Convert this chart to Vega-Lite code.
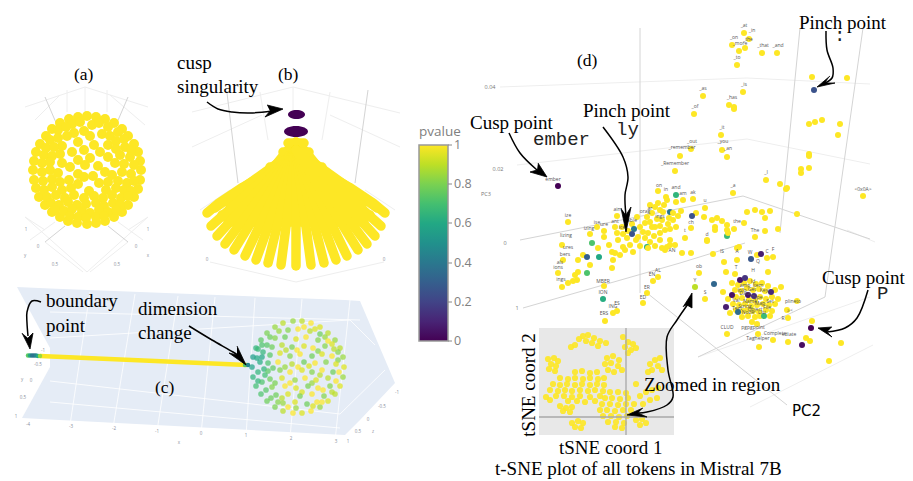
{"$schema":"https://vega.github.io/schema/vega-lite/v6.json","width":913,"height":481,"autosize":{"type":"fit","contains":"padding"},"padding":0,"background":"white","config":{"view":{"stroke":null},"legend":{"disable":true}},
"datasets":{
"plane":[{"s":"a","x":17,"y":287,"y2":287},{"s":"a","x":50,"y":288.5,"y2":348},{"s":"b","x":50,"y":288.5,"y2":419.5},{"s":"b","x":345,"y":300,"y2":435},{"s":"b","x":360,"y":301,"y2":420},{"s":"b","x":395,"y":383,"y2":383},{"s":"c","x":22,"y":418,"y2":418},{"s":"c","x":50,"y":367,"y2":419.5}],
"colorbar":[{"x":419,"x2":448,"y":145,"y2":341}],
"colorTicks":[{"x":448,"x2":452,"y":145,"y2":145,"t":"1"},{"x":448,"x2":452,"y":184,"y2":184,"t":"0.8"},{"x":448,"x2":452,"y":223,"y2":223,"t":"0.6"},{"x":448,"x2":452,"y":263,"y2":263,"t":"0.4"},{"x":448,"x2":452,"y":302,"y2":302,"t":"0.2"},{"x":448,"x2":452,"y":341,"y2":341,"t":"0"}],
"colorTitle":[{"x":419,"y":136,"t":"pvalue"}],
"gridWhite":[{"x":90,"y":292,"x2":70,"y2":425},{"x":135,"y":294,"x2":113,"y2":428},{"x":178,"y":296,"x2":157,"y2":431},{"x":215,"y":297,"x2":201,"y2":434},{"x":255,"y":298,"x2":246,"y2":436},{"x":302,"y":299,"x2":290,"y2":438},{"x":350,"y":300,"x2":335,"y2":441},{"x":50,"y":338,"x2":350,"y2":320},{"x":50,"y":381,"x2":340,"y2":414},{"x":50,"y":402,"x2":340,"y2":428},{"x":50,"y":312,"x2":360,"y2":320},{"x":350,"y":320,"x2":375,"y2":345},{"x":340,"y":414,"x2":385,"y2":370}],
"gridLight":[{"x":25,"y":107,"x2":85,"y2":87},{"x":85,"y":87,"x2":148,"y2":107},{"x":35,"y":120,"x2":60,"y2":95},{"x":110,"y":95,"x2":145,"y2":125},{"x":85,"y":87,"x2":85,"y2":115},{"x":67,"y":90,"x2":67,"y2":112},{"x":107,"y":90,"x2":107,"y2":112},{"x":25,"y":217,"x2":87,"y2":272},{"x":148,"y":217,"x2":87,"y2":272},{"x":45,"y":242,"x2":83,"y2":272},{"x":128,"y":242,"x2":90,"y2":272},{"x":25,"y":217,"x2":45,"y2":230},{"x":148,"y":217,"x2":128,"y2":230},{"x":55,"y":222,"x2":30,"y2":240},{"x":118,"y":222,"x2":143,"y2":240},
{"x":192,"y":112,"x2":293,"y2":87},{"x":293,"y":87,"x2":400,"y2":113},{"x":192,"y":147,"x2":262,"y2":115},{"x":400,"y":147,"x2":330,"y2":115},{"x":293,"y":87,"x2":293,"y2":110},{"x":260,"y":92,"x2":268,"y2":140},{"x":330,"y":92,"x2":322,"y2":140},{"x":200,"y":210,"x2":230,"y2":190},{"x":395,"y":210,"x2":365,"y2":190},{"x":210,"y":262,"x2":296,"y2":282},{"x":384,"y":262,"x2":296,"y2":282},
{"x":500,"y":87,"x2":747,"y2":78},{"x":747,"y":78,"x2":870,"y2":84},{"x":517,"y":165,"x2":747,"y2":139},{"x":747,"y":139,"x2":870,"y2":164},{"x":698,"y":357,"x2":870,"y2":297},{"x":750,"y":407,"x2":873,"y2":345},{"x":847,"y":230,"x2":875,"y2":242}],
"gridMid":[{"x":640,"y":28,"x2":640,"y2":293},{"x":647,"y":293,"x2":787,"y2":405},{"x":520,"y":240,"x2":743,"y2":196},{"x":743,"y":196,"x2":870,"y2":239},{"x":523,"y":308,"x2":680,"y2":263},{"x":800,"y":28,"x2":780,"y2":233},{"x":863,"y":28,"x2":825,"y2":297},{"x":825,"y":297,"x2":698,"y2":357},{"x":680,"y":263,"x2":745,"y2":243},{"x":45,"y":97,"x2":57,"y2":125},{"x":128,"y":97,"x2":116,"y2":125},{"x":227,"y":93,"x2":238,"y2":183},{"x":368,"y":90,"x2":355,"y2":183},{"x":45,"y":242,"x2":65,"y2":226},{"x":128,"y":242,"x2":108,"y2":226}],
"inset":[{"x":539,"x2":674,"y":328,"y2":435}],
"cross":[{"x":626,"y":328,"x2":626,"y2":435},{"x":539,"y":417,"x2":674,"y2":417}],
"sphereA":[{"x":141,"y":170,"p":1},{"x":140,"y":180,"p":1},{"x":138,"y":189,"p":1},{"x":134,"y":197,"p":1},{"x":128,"y":205,"p":1},{"x":122,"y":212,"p":1},{"x":114,"y":217,"p":1},{"x":105,"y":221,"p":1},{"x":96,"y":223,"p":1},{"x":87,"y":224,"p":1},{"x":77,"y":223,"p":1},{"x":68,"y":221,"p":1},{"x":60,"y":217,"p":1},{"x":52,"y":212,"p":1},{"x":45,"y":205,"p":1},{"x":39,"y":197,"p":1},{"x":36,"y":188,"p":1},{"x":34,"y":180,"p":1},{"x":33,"y":170,"p":1},{"x":34,"y":161,"p":1},{"x":36,"y":152,"p":1},{"x":40,"y":144,"p":1},{"x":46,"y":136,"p":1},{"x":52,"y":129,"p":1},{"x":60,"y":123,"p":1},{"x":69,"y":119,"p":1},{"x":78,"y":117,"p":1},{"x":87,"y":116,"p":1},{"x":96,"y":117,"p":1},{"x":105,"y":119,"p":1},{"x":114,"y":123,"p":1},{"x":122,"y":129,"p":1},{"x":128,"y":136,"p":1},{"x":134,"y":144,"p":1},{"x":138,"y":152,"p":1},{"x":140,"y":161,"p":1},
{"x":72,"y":124,"p":1},{"x":80,"y":122,"p":1},{"x":92,"y":125,"p":1},{"x":99,"y":123,"p":1},{"x":108,"y":127,"p":1},
{"x":58,"y":130,"p":1},{"x":66,"y":127,"p":1},{"x":74,"y":133,"p":1},{"x":84,"y":131,"p":1},{"x":90,"y":136,"p":1},{"x":102,"y":134,"p":1},{"x":110,"y":136,"p":1},{"x":118,"y":132,"p":1},
{"x":50,"y":140,"p":1},{"x":58,"y":138,"p":1},{"x":67,"y":136,"p":1},{"x":62,"y":146,"p":1},{"x":78,"y":142,"p":1},{"x":94,"y":145,"p":1},{"x":108,"y":145,"p":1},{"x":116,"y":141,"p":1},{"x":124,"y":139,"p":1},
{"x":46,"y":148,"p":1},{"x":54,"y":147,"p":1},{"x":72,"y":152,"p":1},{"x":84,"y":150,"p":1},{"x":100,"y":152,"p":1},{"x":116,"y":149,"p":1},{"x":125,"y":147,"p":1},{"x":131,"y":150,"p":1},
{"x":44,"y":155,"p":1},{"x":52,"y":156,"p":1},{"x":60,"y":154,"p":1},{"x":78,"y":160,"p":1},{"x":90,"y":158,"p":1},{"x":108,"y":157,"p":1},{"x":120,"y":155,"p":1},{"x":130,"y":157,"p":1},
{"x":42,"y":163,"p":1},{"x":50,"y":162,"p":1},{"x":62,"y":163,"p":1},{"x":70,"y":167,"p":1},{"x":85,"y":165,"p":1},{"x":98,"y":166,"p":1},{"x":115,"y":163,"p":1},{"x":124,"y":164,"p":1},{"x":134,"y":165,"p":1},
{"x":42,"y":172,"p":1},{"x":50,"y":170,"p":1},{"x":58,"y":173,"p":1},{"x":78,"y":174,"p":1},{"x":84,"y":177,"p":1},{"x":93,"y":176,"p":1},{"x":105,"y":172,"p":1},{"x":112,"y":175,"p":1},{"x":122,"y":172,"p":1},{"x":131,"y":174,"p":1},
{"x":43,"y":181,"p":1},{"x":52,"y":179,"p":1},{"x":60,"y":182,"p":1},{"x":69,"y":180,"p":1},{"x":78,"y":184,"p":1},{"x":99,"y":183,"p":1},{"x":108,"y":182,"p":1},{"x":118,"y":181,"p":1},{"x":127,"y":183,"p":1},{"x":134,"y":181,"p":1},
{"x":44,"y":190,"p":1},{"x":52,"y":187,"p":1},{"x":62,"y":190,"p":1},{"x":71,"y":188,"p":1},{"x":89,"y":191,"p":1},{"x":106,"y":190,"p":1},{"x":116,"y":188,"p":1},{"x":124,"y":190,"p":1},{"x":131,"y":191,"p":1},
{"x":47,"y":197,"p":1},{"x":56,"y":195,"p":1},{"x":65,"y":198,"p":1},{"x":74,"y":195,"p":1},{"x":84,"y":198,"p":1},{"x":94,"y":196,"p":1},{"x":103,"y":198,"p":1},{"x":112,"y":195,"p":1},{"x":121,"y":198,"p":1},{"x":128,"y":196,"p":1},
{"x":51,"y":203,"p":1},{"x":59,"y":205,"p":1},{"x":68,"y":202,"p":1},{"x":77,"y":205,"p":1},{"x":86,"y":204,"p":1},{"x":96,"y":203,"p":1},{"x":104,"y":206,"p":1},{"x":113,"y":203,"p":1},{"x":120,"y":205,"p":1},
{"x":55,"y":210,"p":1},{"x":64,"y":211,"p":1},{"x":72,"y":209,"p":1},{"x":82,"y":211,"p":1},{"x":90,"y":213,"p":1},{"x":99,"y":210,"p":1},{"x":108,"y":212,"p":1},{"x":116,"y":210,"p":1},
{"x":70,"y":216,"p":1},{"x":78,"y":217,"p":1},{"x":86,"y":218,"p":1},{"x":96,"y":217,"p":1},{"x":104,"y":216,"p":1}],
"cuspTop":[{"x":296.5,"y":114.5,"p":0}],
"cuspLow":[{"x":296,"y":131.5,"p":0}],
"fan":[
{"r":"L1","x":207,"y":213,"p":1},{"r":"L1","x":219,"y":203,"p":1},{"r":"L1","x":243,"y":187,"p":1},{"r":"L1","x":271,"y":171,"p":1},{"r":"L1","x":287,"y":151,"p":1},{"r":"L1","x":296,"y":142,"p":1},
{"r":"R1","x":385,"y":213,"p":1},{"r":"R1","x":373,"y":203,"p":1},{"r":"R1","x":349,"y":187,"p":1},{"r":"R1","x":321,"y":171,"p":1},{"r":"R1","x":305,"y":151,"p":1},{"r":"R1","x":296,"y":142,"p":1},
{"r":"F1","x":215,"y":208,"p":1},{"r":"F1","x":296,"y":150,"p":1},{"r":"F2","x":377,"y":208,"p":1},{"r":"F2","x":296,"y":150,"p":1},{"r":"F3","x":230,"y":205,"p":1},{"r":"F3","x":362,"y":205,"p":1},{"r":"F4","x":250,"y":190,"p":1},{"r":"F4","x":342,"y":190,"p":1},{"r":"F5","x":222,"y":215,"p":1},{"r":"F5","x":370,"y":215,"p":1},{"r":"F6","x":228,"y":222,"p":1},{"r":"F6","x":364,"y":222,"p":1},{"r":"F7","x":288,"y":143,"p":1},{"r":"F7","x":304,"y":143,"p":1},{"r":"F8","x":283,"y":152,"p":1},{"r":"F8","x":309,"y":152,"p":1},{"r":"F9","x":270,"y":167,"p":1},{"r":"F9","x":322,"y":167,"p":1},
{"r":"1","x":211,"y":226,"p":1},{"r":"1","x":296,"y":150,"p":1},{"r":"2","x":217,"y":236,"p":1},{"r":"2","x":296,"y":150,"p":1},{"r":"3","x":225,"y":244,"p":1},{"r":"3","x":296,"y":150,"p":1},{"r":"4","x":234,"y":250,"p":1},{"r":"4","x":296,"y":150,"p":1},{"r":"5","x":245,"y":256,"p":1},{"r":"5","x":296,"y":150,"p":1},{"r":"6","x":256,"y":260,"p":1},{"r":"6","x":296,"y":150,"p":1},{"r":"7","x":268,"y":263,"p":1},{"r":"7","x":296,"y":150,"p":1},{"r":"8","x":281,"y":265,"p":1},{"r":"8","x":296,"y":150,"p":1},{"r":"9","x":296,"y":266,"p":1},{"r":"9","x":296,"y":150,"p":1},{"r":"10","x":311,"y":265,"p":1},{"r":"10","x":296,"y":150,"p":1},{"r":"11","x":324,"y":263,"p":1},{"r":"11","x":296,"y":150,"p":1},{"r":"12","x":336,"y":260,"p":1},{"r":"12","x":296,"y":150,"p":1},{"r":"13","x":347,"y":256,"p":1},{"r":"13","x":296,"y":150,"p":1},{"r":"14","x":358,"y":250,"p":1},{"r":"14","x":296,"y":150,"p":1},{"r":"15","x":367,"y":244,"p":1},{"r":"15","x":296,"y":150,"p":1},{"r":"16","x":375,"y":236,"p":1},{"r":"16","x":296,"y":150,"p":1},{"r":"17","x":381,"y":226,"p":1},{"r":"17","x":296,"y":150,"p":1}],
"beam":[{"r":"b","x":40,"y":356,"p":1},{"r":"b","x":247,"y":365,"p":1}],
"beamPts":[{"x":28,"y":355.5,"p":0.75},{"x":30,"y":355.5,"p":0.6},{"x":32,"y":355.5,"p":0.4},{"x":34,"y":355.5,"p":0.38},{"x":36,"y":355.5,"p":0.45},{"x":38,"y":356,"p":0.6},{"x":40,"y":356,"p":0.85},{"x":245,"y":365,"p":0.75},{"x":248,"y":365,"p":0.45}],
"sphereC":[{"x":344,"y":367,"p":0.95},{"x":343,"y":377,"p":0.85},{"x":340,"y":386,"p":0.95},{"x":335,"y":394,"p":0.9},{"x":328,"y":401,"p":0.95},{"x":320,"y":407,"p":0.85},{"x":311,"y":411,"p":1},{"x":302,"y":413,"p":0.95},{"x":293,"y":413,"p":1},{"x":283,"y":411,"p":0.9},{"x":275,"y":407,"p":0.8},{"x":267,"y":401,"p":0.78},{"x":261,"y":394,"p":0.72},{"x":256,"y":386,"p":0.7},{"x":253,"y":377,"p":0.65},{"x":252,"y":367,"p":0.58},{"x":253,"y":357,"p":0.55},{"x":256,"y":348,"p":0.65},{"x":261,"y":340,"p":0.75},{"x":267,"y":333,"p":0.8},{"x":275,"y":327,"p":0.85},{"x":283,"y":323,"p":0.9},{"x":293,"y":321,"p":0.85},{"x":302,"y":321,"p":0.9},{"x":311,"y":323,"p":1},{"x":320,"y":327,"p":0.95},{"x":328,"y":333,"p":0.9},{"x":335,"y":340,"p":0.85},{"x":340,"y":348,"p":0.9},{"x":343,"y":357,"p":0.85},
{"x":339,"y":372,"p":1},{"x":338,"y":352,"p":0.82},{"x":332,"y":392,"p":0.9},{"x":322,"y":402,"p":1},{"x":313,"y":406,"p":0.95},{"x":296,"y":408,"p":0.85},{"x":288,"y":407,"p":1},{"x":278,"y":402,"p":0.82},{"x":258,"y":381,"p":0.66},{"x":257,"y":358,"p":0.6},{"x":258,"y":349,"p":0.68},{"x":262,"y":345,"p":0.72},{"x":270,"y":337,"p":0.78},{"x":279,"y":331,"p":0.85},{"x":304,"y":327,"p":1},{"x":315,"y":329,"p":0.95},{"x":325,"y":337,"p":0.85},{"x":332,"y":344,"p":0.95},{"x":286,"y":350,"p":0.9},{"x":297,"y":350,"p":1},{"x":318,"y":351,"p":0.82},{"x":273,"y":368,"p":0.76},{"x":285,"y":367,"p":0.85},{"x":298,"y":367,"p":1},{"x":309,"y":366,"p":0.95},{"x":320,"y":375,"p":0.9},{"x":275,"y":383,"p":0.8},{"x":290,"y":383,"p":1},{"x":302,"y":392,"p":0.95},{"x":312,"y":383,"p":0.85},{"x":323,"y":390,"p":1},{"x":282,"y":398,"p":0.9},{"x":265,"y":375,"p":0.7},{"x":264,"y":369,"p":0.65},{"x":262,"y":357,"p":0.6},
{"x":260,"y":362,"p":0.62},{"x":258,"y":372,"p":0.66},{"x":262,"y":382,"p":0.72},{"x":263,"y":352,"p":0.66},{"x":267,"y":345,"p":0.74},{"x":266,"y":390,"p":0.74},{"x":271,"y":398,"p":0.78},{"x":288,"y":330,"p":0.82},{"x":298,"y":329,"p":1},{"x":310,"y":331,"p":0.9},{"x":320,"y":334,"p":0.78},{"x":275,"y":338,"p":0.82},{"x":285,"y":337,"p":0.78},{"x":296,"y":339,"p":0.95},{"x":306,"y":337,"p":1},{"x":318,"y":340,"p":0.82},{"x":328,"y":341,"p":1},{"x":272,"y":347,"p":0.78},{"x":282,"y":345,"p":0.9},{"x":292,"y":347,"p":0.8},{"x":304,"y":346,"p":0.95},{"x":313,"y":348,"p":1},{"x":325,"y":346,"p":0.82},{"x":334,"y":349,"p":0.9},{"x":270,"y":355,"p":0.74},{"x":280,"y":353,"p":0.95},{"x":290,"y":356,"p":0.82},{"x":300,"y":354,"p":1},{"x":312,"y":356,"p":0.78},{"x":322,"y":354,"p":0.95},{"x":332,"y":356,"p":1},{"x":338,"y":360,"p":0.82},{"x":268,"y":363,"p":0.72},{"x":278,"y":362,"p":1},{"x":292,"y":364,"p":0.9},{"x":304,"y":362,"p":0.78},{"x":315,"y":363,"p":1},{"x":326,"y":362,"p":0.82},{"x":336,"y":364,"p":0.95},{"x":268,"y":371,"p":0.75},{"x":280,"y":370,"p":0.82},{"x":290,"y":372,"p":1},{"x":302,"y":370,"p":0.95},{"x":312,"y":372,"p":0.82},{"x":322,"y":370,"p":1},{"x":333,"y":372,"p":0.78},{"x":270,"y":379,"p":0.78},{"x":282,"y":378,"p":0.95},{"x":295,"y":380,"p":0.85},{"x":305,"y":378,"p":1},{"x":316,"y":380,"p":0.95},{"x":328,"y":378,"p":0.9},{"x":336,"y":381,"p":1},{"x":272,"y":387,"p":0.82},{"x":285,"y":386,"p":1},{"x":296,"y":388,"p":0.95},{"x":308,"y":386,"p":0.8},{"x":318,"y":388,"p":1},{"x":330,"y":386,"p":0.82},{"x":276,"y":395,"p":0.78},{"x":288,"y":394,"p":0.95},{"x":300,"y":396,"p":0.8},{"x":312,"y":394,"p":1},{"x":324,"y":396,"p":0.82},{"x":283,"y":403,"p":0.85},{"x":295,"y":402,"p":0.95},{"x":307,"y":404,"p":0.78},{"x":317,"y":402,"p":1}],
"tsne":[{"x":583,"y":336,"p":1},{"x":588,"y":335,"p":1},{"x":594,"y":338,"p":1},{"x":600,"y":341,"p":1},{"x":606,"y":343,"p":1},{"x":579,"y":339,"p":1},{"x":586,"y":341,"p":1},{"x":592,"y":343,"p":1},{"x":598,"y":346,"p":1},{"x":571,"y":347,"p":1},{"x":575,"y":345,"p":1},{"x":623,"y":337,"p":1},{"x":628,"y":342,"p":1},{"x":633,"y":344,"p":1},{"x":625,"y":347,"p":1},{"x":631,"y":350,"p":1},{"x":636,"y":348,"p":1},{"x":628,"y":353,"p":1},{"x":548,"y":359,"p":1},{"x":554,"y":358,"p":1},{"x":558,"y":361,"p":1},{"x":551,"y":364,"p":1},{"x":556,"y":366,"p":1},{"x":549,"y":369,"p":1},{"x":555,"y":371,"p":1},{"x":607,"y":358,"p":1},{"x":613,"y":356,"p":1},{"x":619,"y":360,"p":1},{"x":605,"y":364,"p":1},{"x":611,"y":363,"p":1},{"x":618,"y":366,"p":1},{"x":622,"y":370,"p":1},{"x":608,"y":370,"p":1},{"x":614,"y":372,"p":1},{"x":650,"y":364,"p":1},{"x":655,"y":360,"p":1},{"x":660,"y":358,"p":1},{"x":652,"y":370,"p":1},{"x":658,"y":366,"p":1},{"x":662,"y":370,"p":1},{"x":648,"y":372,"p":1},
{"x":575,"y":372,"p":1},{"x":582,"y":371,"p":1},{"x":590,"y":373,"p":1},{"x":597,"y":372,"p":1},{"x":560,"y":378,"p":1},{"x":568,"y":379,"p":1},{"x":575,"y":378,"p":1},{"x":583,"y":379,"p":1},{"x":590,"y":378,"p":1},{"x":598,"y":379,"p":1},{"x":604,"y":378,"p":1},{"x":553,"y":384,"p":1},{"x":560,"y":385,"p":1},{"x":567,"y":384,"p":1},{"x":575,"y":385,"p":1},{"x":582,"y":384,"p":1},{"x":590,"y":385,"p":1},{"x":597,"y":384,"p":1},{"x":604,"y":385,"p":1},{"x":550,"y":390,"p":1},{"x":558,"y":391,"p":1},{"x":565,"y":390,"p":1},{"x":572,"y":391,"p":1},{"x":580,"y":390,"p":1},{"x":588,"y":391,"p":1},{"x":595,"y":390,"p":1},{"x":603,"y":391,"p":1},{"x":556,"y":396,"p":1},{"x":564,"y":396,"p":1},{"x":572,"y":397,"p":1},{"x":580,"y":396,"p":1},{"x":590,"y":397,"p":1},{"x":600,"y":396,"p":1},{"x":568,"y":401,"p":1},{"x":577,"y":401,"p":1},{"x":585,"y":402,"p":1},{"x":595,"y":401,"p":1},
{"x":610,"y":392,"p":1},{"x":618,"y":392,"p":1},{"x":626,"y":393,"p":1},{"x":605,"y":398,"p":1},{"x":612,"y":398,"p":1},{"x":620,"y":399,"p":1},{"x":628,"y":398,"p":1},{"x":602,"y":404,"p":1},{"x":610,"y":404,"p":1},{"x":618,"y":405,"p":1},{"x":626,"y":404,"p":1},{"x":634,"y":404,"p":1},{"x":600,"y":410,"p":1},{"x":607,"y":410,"p":1},{"x":615,"y":411,"p":1},{"x":623,"y":410,"p":1},{"x":631,"y":410,"p":1},{"x":603,"y":416,"p":1},{"x":611,"y":416,"p":1},{"x":619,"y":417,"p":1},{"x":627,"y":416,"p":1},{"x":608,"y":422,"p":1},{"x":616,"y":422,"p":1},{"x":624,"y":423,"p":1},{"x":615,"y":427,"p":1},{"x":622,"y":428,"p":1},
{"x":640,"y":396,"p":1},{"x":646,"y":392,"p":1},{"x":652,"y":390,"p":1},{"x":658,"y":388,"p":1},{"x":643,"y":404,"p":1},{"x":650,"y":400,"p":1},{"x":657,"y":398,"p":1},{"x":636,"y":384,"p":1},{"x":546,"y":397,"p":1},{"x":550,"y":400,"p":1},{"x":560,"y":406,"p":1},{"x":566,"y":408,"p":1},{"x":572,"y":407,"p":1},{"x":563,"y":411,"p":1},{"x":570,"y":412,"p":1},{"x":572,"y":423,"p":1},{"x":578,"y":421,"p":1},{"x":583,"y":423,"p":1},{"x":575,"y":427,"p":1},{"x":581,"y":428,"p":1},{"x":636,"y":420,"p":1},{"x":642,"y":419,"p":1},{"x":646,"y":423,"p":1},{"x":640,"y":425,"p":1}],
"tokens":[{"x":744,"y":33,"p":1},{"x":749,"y":39,"p":1},{"x":732,"y":45,"p":1},{"x":739,"y":51,"p":1},{"x":745,"y":48,"p":1},{"x":762,"y":53,"p":1},{"x":777,"y":53,"p":1},{"x":737,"y":65,"p":1},{"x":812,"y":77,"p":1},{"x":847,"y":78,"p":1},{"x":814,"y":90,"p":0.25},{"x":743,"y":92,"p":1},{"x":703,"y":96,"p":1},{"x":729,"y":105,"p":1},{"x":734,"y":107,"p":1},{"x":734,"y":109,"p":1},{"x":694,"y":114,"p":1},{"x":809,"y":124,"p":1},{"x":815,"y":122,"p":1},{"x":822,"y":120,"p":1},{"x":840,"y":124,"p":1},{"x":838,"y":135,"p":1},{"x":721,"y":135,"p":1},{"x":691,"y":149,"p":1},{"x":722,"y":150,"p":1},{"x":727,"y":157,"p":1},{"x":680,"y":156,"p":1},{"x":809,"y":154,"p":1},{"x":809,"y":156,"p":1},{"x":801,"y":169,"p":1},{"x":801,"y":173,"p":1},{"x":809,"y":168,"p":1},{"x":675,"y":171,"p":1},{"x":558,"y":186,"p":0},{"x":766,"y":180,"p":1},{"x":780,"y":184,"p":1},{"x":787,"y":188,"p":1},{"x":786,"y":189,"p":1},{"x":733,"y":193,"p":1},{"x":863,"y":196,"p":1},{"x":658,"y":191,"p":1},{"x":676,"y":195,"p":0.65},{"x":666,"y":197,"p":1},{"x":797,"y":214,"p":1},{"x":747,"y":212,"p":1},{"x":755,"y":210,"p":1},{"x":762,"y":212,"p":1},{"x":770,"y":211,"p":1},{"x":765,"y":218,"p":1},{"x":778,"y":229,"p":1},{"x":765,"y":231,"p":1},{"x":755,"y":237,"p":1},{"x":744,"y":223,"p":1},{"x":727,"y":236,"p":0.68},{"x":734,"y":229,"p":1},{"x":717,"y":218,"p":1},{"x":712,"y":220,"p":1},{"x":722,"y":221,"p":1},{"x":727,"y":225,"p":1},{"x":715,"y":227,"p":1},{"x":715,"y":230,"p":1},{"x":727,"y":230,"p":1},{"x":728,"y":233,"p":1},{"x":704,"y":217,"p":1},{"x":705,"y":208,"p":1},{"x":696,"y":213,"p":1},{"x":692,"y":216,"p":0.25},{"x":693,"y":199,"p":1},{"x":691,"y":228,"p":1},{"x":685,"y":238,"p":1},{"x":707,"y":240,"p":1},{"x":676,"y":227,"p":1},{"x":670,"y":212,"p":0.4},{"x":683,"y":200,"p":1},{"x":676,"y":202,"p":1},{"x":658,"y":203,"p":1},{"x":660,"y":210,"p":1},{"x":667,"y":200,"p":1},{"x":650,"y":205,"p":1},{"x":652,"y":213,"p":1},{"x":663,"y":212,"p":1},{"x":673,"y":213,"p":1},{"x":681,"y":211,"p":1},{"x":662,"y":220,"p":1},{"x":673,"y":220,"p":1},{"x":647,"y":217,"p":1},{"x":637,"y":217,"p":1},{"x":645,"y":223,"p":1},{"x":652,"y":227,"p":1},{"x":665,"y":230,"p":1},{"x":670,"y":229,"p":1},{"x":660,"y":233,"p":1},{"x":655,"y":227,"p":1},{"x":640,"y":227,"p":1},{"x":643,"y":232,"p":1},{"x":638,"y":237,"p":1},{"x":617,"y":216,"p":1},{"x":568,"y":222,"p":1},{"x":597,"y":227,"p":1},{"x":604,"y":231,"p":1},{"x":615,"y":227,"p":1},{"x":622,"y":227,"p":1},{"x":617,"y":233,"p":1},{"x":623,"y":234,"p":1},{"x":590,"y":234,"p":1},{"x":604,"y":237,"p":1},{"x":562,"y":245,"p":1},{"x":627,"y":238,"p":1},{"x":636,"y":240,"p":1},{"x":645,"y":238,"p":1},{"x":630,"y":245,"p":1},{"x":640,"y":246,"p":1},{"x":625,"y":250,"p":1},{"x":633,"y":252,"p":1},{"x":618,"y":240,"p":1},{"x":650,"y":242,"p":1},{"x":655,"y":246,"p":1},{"x":660,"y":240,"p":1},{"x":670,"y":240,"p":1},{"x":675,"y":245,"p":1},{"x":665,"y":250,"p":1},{"x":655,"y":207,"p":1},{"x":664,"y":205,"p":1},{"x":669,"y":218,"p":1},{"x":657,"y":219,"p":1},{"x":650,"y":222,"p":1},{"x":678,"y":216,"p":1},{"x":668,"y":224,"p":1},{"x":660,"y":226,"p":1},{"x":648,"y":233,"p":1},{"x":654,"y":236,"p":1},{"x":632,"y":224,"p":1},{"x":628,"y":231,"p":1},
{"x":592,"y":243,"p":0.72},{"x":598,"y":248,"p":1},{"x":599,"y":257,"p":0.6},{"x":583,"y":255,"p":1},{"x":578,"y":260,"p":1},{"x":590,"y":265,"p":1},{"x":587,"y":273,"p":0.72},{"x":578,"y":272,"p":1},{"x":575,"y":275,"p":1},{"x":563,"y":260,"p":1},{"x":558,"y":273,"p":1},{"x":562,"y":287,"p":1},{"x":568,"y":283,"p":1},{"x":573,"y":281,"p":1},{"x":577,"y":280,"p":1},{"x":603,"y":299,"p":0.62},{"x":613,"y":260,"p":1},{"x":612,"y":268,"p":1},{"x":612,"y":252,"p":1},{"x":620,"y":255,"p":1},{"x":615,"y":253,"p":1},{"x":623,"y":247,"p":1},{"x":609,"y":245,"p":1},{"x":604,"y":286,"p":1},{"x":605,"y":321,"p":1},{"x":613,"y":313,"p":1},{"x":617,"y":311,"p":1},{"x":647,"y":293,"p":1},{"x":643,"y":303,"p":1},{"x":653,"y":281,"p":1},{"x":658,"y":277,"p":1},{"x":647,"y":247,"p":0.65},{"x":648,"y":248,"p":1},{"x":662,"y":248,"p":1},{"x":667,"y":247,"p":1},{"x":670,"y":245,"p":1},{"x":682,"y":253,"p":1},{"x":691,"y":253,"p":1},{"x":707,"y":241,"p":1},{"x":713,"y":254,"p":1},{"x":699,"y":273,"p":1},{"x":695,"y":287,"p":0.9},{"x":705,"y":299,"p":1},{"x":724,"y":262,"p":1},{"x":726,"y":272,"p":1},{"x":737,"y":248,"p":1},{"x":739,"y":247,"p":1},{"x":737,"y":260,"p":1},{"x":735,"y":274,"p":1},{"x":757,"y":255,"p":1},{"x":767,"y":258,"p":1},{"x":773,"y":257,"p":1},{"x":768,"y":272,"p":1},{"x":723,"y":292,"p":1},{"x":727,"y":334,"p":1},{"x":730,"y":313,"p":1},{"x":747,"y":310,"p":1},{"x":742,"y":317,"p":1},{"x":781,"y":287,"p":1},{"x":797,"y":301,"p":1},{"x":787,"y":310,"p":1},{"x":788,"y":318,"p":1},{"x":812,"y":321,"p":1},{"x":806,"y":338,"p":1},{"x":810,"y":341,"p":1},{"x":788,"y":342,"p":1},{"x":773,"y":340,"p":1},{"x":759,"y":347,"p":1},{"x":758,"y":334,"p":1},{"x":841,"y":343,"p":1},{"x":829,"y":361,"p":1},
{"x":732,"y":283,"p":1},{"x":738,"y":285,"p":1},{"x":744,"y":283,"p":1},{"x":750,"y":281,"p":1},{"x":756,"y":284,"p":1},{"x":762,"y":283,"p":1},{"x":768,"y":286,"p":1},{"x":735,"y":290,"p":1},{"x":741,"y":291,"p":1},{"x":747,"y":288,"p":1},{"x":753,"y":290,"p":1},{"x":759,"y":289,"p":1},{"x":765,"y":291,"p":1},{"x":775,"y":290,"p":1},{"x":728,"y":299,"p":1},{"x":736,"y":297,"p":1},{"x":742,"y":298,"p":1},{"x":749,"y":300,"p":1},{"x":755,"y":301,"p":1},{"x":760,"y":297,"p":1},{"x":766,"y":299,"p":1},{"x":772,"y":297,"p":1},{"x":778,"y":299,"p":1},{"x":733,"y":304,"p":1},{"x":739,"y":305,"p":1},{"x":745,"y":304,"p":1},{"x":751,"y":306,"p":1},{"x":757,"y":305,"p":1},{"x":763,"y":304,"p":1},{"x":769,"y":305,"p":1},{"x":775,"y":304,"p":1},{"x":736,"y":310,"p":1},{"x":743,"y":311,"p":1},{"x":753,"y":311,"p":1},{"x":759,"y":312,"p":1},{"x":766,"y":310,"p":1},{"x":772,"y":311,"p":1},{"x":748,"y":316,"p":1},{"x":755,"y":317,"p":1},{"x":760,"y":316,"p":1},{"x":770,"y":316,"p":1},{"x":752,"y":322,"p":1},{"x":757,"y":324,"p":1},
{"x":587,"y":257,"p":0.3},{"x":634,"y":229,"p":0.4},{"x":632,"y":234,"p":0.25},{"x":751,"y":259,"p":0.27},{"x":761,"y":254,"p":0.08},{"x":714,"y":284,"p":0.33},{"x":732,"y":295,"p":0.05},{"x":726,"y":307,"p":0.08},{"x":738,"y":312,"p":0.35},{"x":771,"y":292,"p":0.12},{"x":754,"y":296,"p":0.12},{"x":748,"y":295,"p":0.05},{"x":740,"y":280,"p":0.05},{"x":745,"y":278,"p":0.15},{"x":764,"y":316,"p":0.68},{"x":811,"y":328,"p":0},{"x":802,"y":345,"p":0.03}],
"tokenLabels":[{"x":744,"y":25,"t":"_at"},{"x":752,"y":30,"t":"_in"},{"x":734,"y":37,"t":"_on"},{"x":763,"y":45,"t":"_that"},{"x":778,"y":45,"t":"_and"},{"x":737,"y":57,"t":"_to"},{"x":748,"y":39,"t":"_the"},{"x":740,"y":43,"t":"_more"},{"x":744,"y":84,"t":"_is"},{"x":703,"y":88,"t":"_as"},{"x":695,"y":106,"t":"_of"},{"x":732,"y":97,"t":"_has"},{"x":722,"y":127,"t":"_it"},{"x":692,"y":141,"t":"_out"},{"x":723,"y":141,"t":"_you"},{"x":728,"y":148,"t":"_an"},{"x":682,"y":147,"t":"_remember"},{"x":675,"y":163,"t":"_Remember"},{"x":553,"y":179,"t":"ember"},{"x":733,"y":185,"t":"_a"},{"x":766,"y":172,"t":"_I"},{"x":659,"y":185,"t":"on"},{"x":676,"y":187,"t":"and"},{"x":666,"y":189,"t":"in"},{"x":683,"y":193,"t":"am"},{"x":693,"y":192,"t":"ak"},{"x":863,"y":189,"t":"<0x0A>"},{"x":568,"y":215,"t":"ize"},{"x":617,"y":209,"t":"ain"},{"x":705,"y":200,"t":"u"},{"x":691,"y":222,"t":"ch"},{"x":755,"y":230,"t":"The"},{"x":737,"y":221,"t":"the"},{"x":707,"y":234,"t":"d"},{"x":685,"y":230,"t":"t"},{"x":597,"y":222,"t":"ise"},{"x":604,"y":224,"t":"ure"},{"x":615,"y":221,"t":"ant"},{"x":589,"y":228,"t":"izing"},{"x":622,"y":227,"t":"ice"},{"x":566,"y":235,"t":"lizing"},{"x":568,"y":247,"t":"ures"},{"x":565,"y":254,"t":"bers"},{"x":560,"y":262,"t":"als"},{"x":558,"y":267,"t":"ions"},{"x":561,"y":279,"t":"ings"},{"x":603,"y":281,"t":"MBER"},{"x":603,"y":292,"t":"ION"},{"x":617,"y":303,"t":"ES"},{"x":613,"y":306,"t":"ING"},{"x":604,"y":313,"t":"ERS"},{"x":658,"y":270,"t":"AL"},{"x":652,"y":274,"t":"EN"},{"x":647,"y":287,"t":"ER"},{"x":643,"y":297,"t":"ED"},{"x":672,"y":250,"t":"AN"},{"x":705,"y":292,"t":"S"},{"x":695,"y":280,"t":"Y"},{"x":699,"y":266,"t":"ob"},{"x":727,"y":327,"t":"CLUD"},{"x":753,"y":327,"t":"pgpgpoint"},{"x":775,"y":333,"t":"Complete"},{"x":758,"y":338,"t":"Taghelper"},{"x":789,"y":334,"t":"ediate"},{"x":773,"y":249,"t":"F"},{"x":758,"y":261,"t":"Q"},{"x":767,"y":251,"t":"C"},{"x":750,"y":252,"t":"W"},{"x":737,"y":251,"t":"A"},{"x":722,"y":251,"t":"IS"},{"x":753,"y":270,"t":"H"},{"x":736,"y":267,"t":"T"},{"x":793,"y":301,"t":"plineto"},{"x":790,"y":310,"t":"≥<"},{"x":783,"y":318,"t":"R"},{"x":650,"y":208,"t":"ar"},{"x":645,"y":211,"t":"orag"},{"x":660,"y":216,"t":"ings"},{"x":632,"y":220,"t":"able"},{"x":745,"y":285,"t":"amp"},{"x":752,"y":289,"t":"Get"},{"x":745,"y":293,"t":"Data"},{"x":757,"y":297,"t":"Type"},{"x":750,"y":301,"t":"Name"},{"x":760,"y":303,"t":"Map"},{"x":745,"y":306,"t":"String"},{"x":755,"y":309,"t":"Object"},{"x":762,"y":312,"t":"List"},{"x":748,"y":312,"t":"Node"},{"x":764,"y":290,"t":"Key"},{"x":736,"y":300,"t":"Val"},{"x":770,"y":301,"t":"Set"},{"x":742,"y":290,"t":"Info"},{"x":758,"y":285,"t":"Item"},{"x":753,"y":281,"t":"Id"},{"x":767,"y":307,"t":"File"},{"x":737,"y":308,"t":"Text"}],
"axisText":[{"x":38,"y":247,"t":"0"},{"x":25,"y":256,"t":"y"},{"x":55,"y":265,"t":"0.5"},{"x":117,"y":265,"t":"0.5"},{"x":136,"y":247,"t":"0"},{"x":148,"y":256,"t":"x"},{"x":26,"y":230,"t":"1"},{"x":148,"y":230,"t":"1"},{"x":207,"y":260,"t":"0"},{"x":384,"y":260,"t":"0"},{"x":43,"y":351,"t":"-1"},{"x":38,"y":365,"t":"-0.5"},{"x":22,"y":380,"t":"y"},{"x":31,"y":381,"t":"0"},{"x":23,"y":398,"t":"0.5"},{"x":16,"y":417,"t":"1"},{"x":28,"y":425,"t":"-4"},{"x":71,"y":427,"t":"-3"},{"x":114,"y":429,"t":"-2"},{"x":157,"y":432,"t":"-1"},{"x":201,"y":434,"t":"0"},{"x":246,"y":436,"t":"1"},{"x":291,"y":439,"t":"2"},{"x":336,"y":442,"t":"3"},{"x":179,"y":443,"t":"x"},{"x":397,"y":393,"t":"-1"},{"x":382,"y":407,"t":"-0.5"},{"x":368,"y":420,"t":"0"},{"x":358,"y":432,"t":"0.5"},{"x":348,"y":442,"t":"1"},{"x":373,"y":432,"t":"z"}],
"axisTextD":[{"x":490,"y":87,"t":"0.04"},{"x":498,"y":169,"t":"0.02"},{"x":486,"y":194,"t":"PC3"},{"x":505,"y":243,"t":"0"},{"x":517,"y":308,"t":"1"}],
"serif":[{"x":74,"y":80,"t":"(a)"},{"x":278,"y":80,"t":"(b)"},{"x":155,"y":393,"t":"(c)"},{"x":577,"y":66,"t":"(d)"}],
"serifBig":[{"x":177,"y":69,"t":"cusp"},{"x":177,"y":93,"t":"singularity"},{"x":46,"y":307,"t":"boundary"},{"x":46,"y":332,"t":"point"},{"x":138,"y":315,"t":"dimension"},{"x":138,"y":339,"t":"change"},{"x":799,"y":29,"t":"Pinch point"},{"x":583,"y":117,"t":"Pinch point"},{"x":470,"y":129,"t":"Cusp point"},{"x":822,"y":284,"t":"Cusp point"},{"x":644,"y":391,"t":"Zoomed in region"},{"x":559,"y":454,"t":"tSNE coord 1"},{"x":495,"y":475,"t":"t-SNE plot of all tokens in Mistral 7B"}],
"vertical":[{"x":535,"y":385,"t":"tSNE coord 2"}],
"mono":[{"x":533,"y":145,"t":"ember"},{"x":616,"y":135,"t":"ly"},{"x":877,"y":299,"t":"P"},{"x":834,"y":41,"t":":"}],
"sans":[{"x":792,"y":416,"t":"PC2"}],
"arrows":[{"a":"1","x":207,"y":102},{"a":"1","x":218,"y":109},{"a":"1","x":232,"y":112},{"a":"1","x":250,"y":113},{"a":"1","x":272,"y":111},
{"a":"2","x":41,"y":302},{"a":"2","x":32,"y":301},{"a":"2","x":27,"y":312},{"a":"2","x":27,"y":323},{"a":"2","x":28,"y":336},
{"a":"3","x":189,"y":326},{"a":"3","x":212,"y":340},{"a":"3","x":233,"y":352},{"a":"3","x":239,"y":356},
{"a":"4","x":826,"y":31},{"a":"4","x":827,"y":50},{"a":"4","x":833,"y":68},{"a":"4","x":832,"y":78},{"a":"4","x":825,"y":83},
{"a":"5","x":603,"y":127},{"a":"5","x":623,"y":157},{"a":"5","x":628,"y":177},{"a":"5","x":625,"y":195},{"a":"5","x":626,"y":216},
{"a":"6","x":509,"y":133},{"a":"6","x":520,"y":153},{"a":"6","x":537,"y":170},
{"a":"7","x":868,"y":290},{"a":"7","x":857,"y":318},{"a":"7","x":845,"y":328},{"a":"7","x":827,"y":332},
{"a":"8","x":688,"y":304},{"a":"8","x":677,"y":320},{"a":"8","x":667,"y":337},{"a":"8","x":668,"y":370},{"a":"8","x":673,"y":397},{"a":"8","x":667,"y":405},{"a":"8","x":647,"y":412},{"a":"8","x":638,"y":413}],
"heads":[{"a":"1","x":267,"y":105},{"a":"1","x":283,"y":109},{"a":"1","x":265,"y":117},{"a":"1","x":270,"y":111},
{"a":"2","x":22,"y":333},{"a":"2","x":30,"y":349},{"a":"2","x":33,"y":333},{"a":"2","x":28,"y":338},
{"a":"3","x":237,"y":346},{"a":"3","x":246,"y":365},{"a":"3","x":229,"y":353},{"a":"3","x":237,"y":355},
{"a":"4","x":830,"y":76},{"a":"4","x":817,"y":87},{"a":"4","x":835,"y":83},{"a":"4","x":825,"y":83},
{"a":"5","x":621,"y":208},{"a":"5","x":626,"y":232},{"a":"5","x":631,"y":207},{"a":"5","x":626,"y":215},
{"a":"6","x":538,"y":163},{"a":"6","x":547,"y":177},{"a":"6","x":530,"y":172},{"a":"6","x":537,"y":170},
{"a":"7","x":832,"y":327},{"a":"7","x":818,"y":328},{"a":"7","x":832,"y":337},{"a":"7","x":827,"y":332},
{"a":"8a","x":683,"y":307},{"a":"8a","x":692,"y":293},{"a":"8a","x":692,"y":308},{"a":"8a","x":687,"y":305},
{"a":"8b","x":643,"y":408},{"a":"8b","x":627,"y":415},{"a":"8b","x":647,"y":417},{"a":"8b","x":638,"y":413}]
},
"encoding":{"x":{"field":"x","type":"quantitative","scale":{"domain":[0,913],"nice":false,"zero":false},"axis":null},"y":{"field":"y","type":"quantitative","scale":{"domain":[481,0],"nice":false,"zero":false},"axis":null}},
"layer":[
{"data":{"name":"plane"},"mark":{"type":"area","color":"#e5ecf6"},"encoding":{"y2":{"field":"y2"},"detail":{"field":"s"}}},
{"data":{"name":"gridWhite"},"mark":{"type":"rule","color":"#ffffff","strokeWidth":0.8},"encoding":{"x2":{"field":"x2"},"y2":{"field":"y2"}}},
{"data":{"name":"gridLight"},"mark":{"type":"rule","color":"#eeeeee","strokeWidth":1},"encoding":{"x2":{"field":"x2"},"y2":{"field":"y2"}}},
{"data":{"name":"gridMid"},"mark":{"type":"rule","color":"#d4d4d4","strokeWidth":1},"encoding":{"x2":{"field":"x2"},"y2":{"field":"y2"}}},
{"data":{"name":"colorbar"},"mark":{"type":"rect","stroke":"#999999","strokeWidth":1.5,"fill":{"x1":0,"y1":0,"x2":0,"y2":1,"gradient":"linear","stops":[{"offset":0,"color":"#fde725"},{"offset":0.1,"color":"#bddf26"},{"offset":0.2,"color":"#7ad151"},{"offset":0.3,"color":"#44bf70"},{"offset":0.4,"color":"#22a884"},{"offset":0.5,"color":"#21918c"},{"offset":0.6,"color":"#2a788e"},{"offset":0.7,"color":"#355f8d"},{"offset":0.8,"color":"#414487"},{"offset":0.9,"color":"#482475"},{"offset":1,"color":"#440154"}]}},"encoding":{"x2":{"field":"x2"},"y2":{"field":"y2"}}},
{"data":{"name":"colorTicks"},"mark":{"type":"rule","color":"#888888","strokeWidth":1},"encoding":{"x2":{"field":"x2"},"y2":{"field":"y2"}}},
{"data":{"name":"colorTicks"},"mark":{"type":"text","font":"Open Sans","fontSize":12.5,"color":"#808080","align":"left","baseline":"middle","dx":6},"encoding":{"x":{"field":"x","type":"quantitative"},"text":{"field":"t"}}},
{"data":{"name":"colorTitle"},"mark":{"type":"text","font":"Open Sans","fontSize":13.5,"color":"#808080","align":"left","baseline":"alphabetic"},"encoding":{"text":{"field":"t"}}},
{"data":{"name":"inset"},"mark":{"type":"rect","color":"#e8e8e8"},"encoding":{"x2":{"field":"x2"},"y2":{"field":"y2"}}},
{"data":{"name":"tsne"},"mark":{"type":"circle","size":38,"opacity":0.9},"encoding":{"color":{"field":"p","type":"quantitative","scale":{"domain":[0,1],"scheme":"viridis"}}}},
{"data":{"name":"cross"},"mark":{"type":"rule","color":"#a8a8a8","strokeWidth":1.3},"encoding":{"x2":{"field":"x2"},"y2":{"field":"y2"}}},
{"data":{"name":"axisText"},"mark":{"type":"text","font":"Open Sans","fontSize":4.5,"color":"#8a8f9c"},"encoding":{"text":{"field":"t"}}},
{"data":{"name":"axisTextD"},"mark":{"type":"text","font":"Open Sans","fontSize":5.5,"color":"#777777"},"encoding":{"text":{"field":"t"}}},
{"data":{"name":"sphereA"},"mark":{"type":"circle","size":100,"opacity":1},"encoding":{"color":{"field":"p","type":"quantitative"}}},
{"data":{"name":"fan"},"mark":{"type":"line","strokeWidth":9.5,"strokeCap":"round","strokeJoin":"round"},"encoding":{"detail":{"field":"r"},"order":{"value":null},"color":{"field":"p","type":"quantitative"}}},
{"data":{"name":"cuspTop"},"mark":{"type":"point","filled":true,"opacity":1,"size":289,"shape":"M-1,0A1,0.53 0 1 1 1,0A1,0.53 0 1 1 -1,0Z"},"encoding":{"color":{"field":"p","type":"quantitative"}}},
{"data":{"name":"cuspLow"},"mark":{"type":"point","filled":true,"opacity":1,"size":576,"shape":"M-1,0A1,0.46 0 1 1 1,0A1,0.46 0 1 1 -1,0Z"},"encoding":{"color":{"field":"p","type":"quantitative"}}},
{"data":{"name":"sphereC"},"mark":{"type":"circle","size":32,"opacity":0.72},"encoding":{"color":{"field":"p","type":"quantitative"}}},
{"data":{"name":"beam"},"mark":{"type":"line","strokeWidth":4.5},"encoding":{"detail":{"field":"r"},"color":{"field":"p","type":"quantitative"}}},
{"data":{"name":"beamPts"},"mark":{"type":"circle","size":20,"opacity":1},"encoding":{"color":{"field":"p","type":"quantitative"}}},
{"data":{"name":"tokens"},"mark":{"type":"circle","size":36,"opacity":1},"encoding":{"color":{"field":"p","type":"quantitative"}}},
{"data":{"name":"tokenLabels"},"mark":{"type":"text","font":"Open Sans","fontSize":5,"color":"#555555"},"encoding":{"text":{"field":"t"}}},
{"data":{"name":"arrows"},"mark":{"type":"line","color":"#000000","strokeWidth":1.5,"interpolate":"catmull-rom"},"encoding":{"detail":{"field":"a"},"order":{"value":null}}},
{"data":{"name":"heads"},"mark":{"type":"line","color":"#000000","fill":"#000000","strokeWidth":0.8,"strokeJoin":"miter"},"encoding":{"detail":{"field":"a"},"order":{"value":null}}},
{"data":{"name":"serif"},"mark":{"type":"text","font":"Liberation Serif","fontSize":17.5,"color":"#000000","align":"left","baseline":"alphabetic"},"encoding":{"text":{"field":"t"}}},
{"data":{"name":"serifBig"},"mark":{"type":"text","font":"Liberation Serif","fontSize":19,"color":"#000000","align":"left","baseline":"alphabetic"},"encoding":{"text":{"field":"t"}}},
{"data":{"name":"vertical"},"mark":{"type":"text","font":"Liberation Serif","fontSize":19,"color":"#000000","align":"center","baseline":"alphabetic","angle":270},"encoding":{"text":{"field":"t"}}},
{"data":{"name":"mono"},"mark":{"type":"text","font":"Liberation Mono","fontSize":19,"color":"#222222","align":"left","baseline":"alphabetic"},"encoding":{"text":{"field":"t"}}},
{"data":{"name":"sans"},"mark":{"type":"text","font":"DejaVu Sans","fontSize":15,"color":"#000000","align":"left","baseline":"alphabetic"},"encoding":{"text":{"field":"t"}}}
]}
